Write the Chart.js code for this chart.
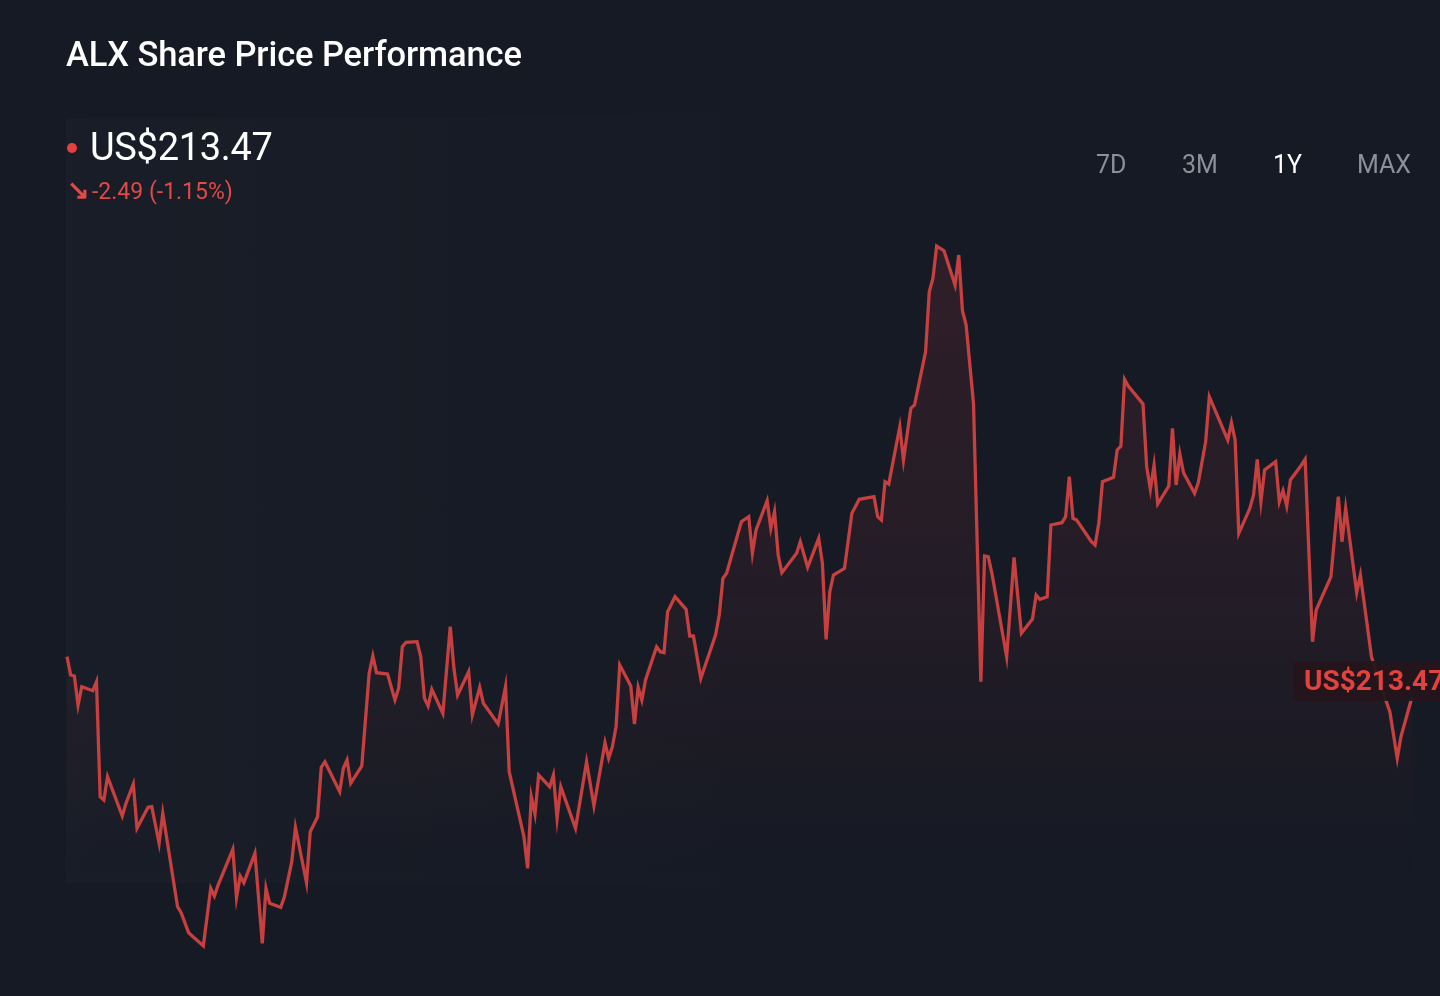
<!DOCTYPE html>
<html>
<head>
<meta charset="utf-8">
<script src="https://cdn.jsdelivr.net/npm/chart.js@4.4.1/dist/chart.umd.min.js"></script>
<style>
  html, body { margin: 0; padding: 0; background: #151a24; width: 1440px; height: 996px; overflow: hidden; font-family: Roboto, "Noto Sans", sans-serif; }
  #wrap { position: relative; width: 1440px; height: 996px; }
  #panel { position: absolute; left: 66px; top: 118px; width: 1374px; height: 765px;
    background: linear-gradient(to right, rgba(255,255,255,0.014), rgba(255,255,255,0) 55%); }
  canvas { position: absolute; left: 0; top: 0; }
  .title { position: absolute; left: 66px; top: 34px; color: #ffffff; font-size: 34.5px; font-weight: 500; letter-spacing: -0.1px; }
  .price { position: absolute; left: 90px; top: 125px; color: #ffffff; font-size: 38px; font-weight: 400; letter-spacing: -0.3px; }
  .dot { position: absolute; left: 67px; top: 143px; width: 10px; height: 10px; border-radius: 50%; background: #e5423f; }
  .change { position: absolute; left: 92px; top: 178px; color: #e04a47; font-size: 23px; }
  .arrow { position: absolute; left: 67px; top: 174px; color: #e04a47; font-size: 27px; font-weight: 700; }
  .tabs span { position: absolute; top: 150px; color: #8b9099; font-size: 25px; }
  .tabs span.on { color: #ffffff; }
  #lastLabel { position: absolute; left: 1294px; top: 661px; width: 160px; height: 40px; background: rgba(36,21,27,0.94);
    border-radius: 3px; color: #e3433f; font-size: 28px; font-weight: 700; line-height: 40px; padding-left: 10px; box-sizing: border-box; white-space: nowrap; }
</style>
</head>
<body>
<div id="wrap">
  <div id="panel"></div>
  <canvas id="priceChart" width="1440" height="996"></canvas>
  <div class="title">ALX Share Price Performance</div>
  <div class="dot"></div>
  <div class="price">US$213.47</div>
  <div class="arrow">↘</div>
  <div class="change">-2.49 (-1.15%)</div>
  <div class="tabs">
    <span style="left:1096px">7D</span>
    <span style="left:1182px">3M</span>
    <span class="on" style="left:1273px">1Y</span>
    <span style="left:1357px">MAX</span>
  </div>
  <div id="lastLabel">US$213.47</div>
</div>
<script>
// calendar days since the start of the 1Y window
const dayOffsets = [
  0,1,2,3,4,7,8,9,10,11,
  15,16,18,19,22,23,25,26,30,31,
  33,37,39,40,41,45,46,47,48,51,
  53,54,55,58,59,61,62,65,66,68,
  69,70,74,75,76,77,80,82,83,84,
  87,89,90,91,92,95,96,97,98,99,
  102,104,105,106,109,110,112,113,117,119,
  120,124,125,126,127,128,131,132,133,134,
  138,141,143,146,147,148,149,150,153,154,
  155,156,157,160,161,162,163,165,168,169,
  170,172,176,177,178,179,183,185,186,187,
  190,191,192,193,194,198,199,201,204,205,
  206,207,208,211,213,215,219,220,221,222,
  223,226,227,229,230,233,234,235,236,238,
  241,242,243,244,246,248,249,250,251,255,
  257,259,262,263,264,266,267,270,271,272,
  273,274,278,279,280,281,284,285,286,287,
  288,292,293,294,295,296,299,300,301,302,
  303,306,307,309,310,315,316,317,318,321,
  322,323,324,325,328,329,330,331,332,335,
  336,338,339,343,345,346,347,350,351,354,
  356,359,361,362,365
];

// share price, US$
const prices = [
  217.50,215.67,215.57,212.67,214.50,214.10,215.00,203.50,203.17,205.50,
  201.57,202.84,204.77,200.34,202.44,202.50,198.84,201.84,192.50,191.87,
  189.90,188.57,194.34,193.57,194.67,198.24,193.40,195.57,194.90,197.84,
  188.84,194.34,192.84,192.44,193.50,197.00,200.44,194.90,200.00,201.50,
  206.44,207.00,204.00,206.34,207.17,204.84,206.57,215.84,217.57,215.90,
  215.77,213.17,214.34,218.50,218.94,219.00,217.50,213.34,212.57,214.24,
  211.84,220.50,216.34,213.67,216.00,211.67,214.44,212.84,210.77,214.50,
  206.00,199.50,196.34,203.50,201.77,205.67,204.50,205.67,201.34,204.50,
  200.34,207.00,202.57,208.90,207.34,208.50,210.50,216.67,214.57,210.77,
  214.44,213.17,215.17,218.50,218.00,217.90,222.00,223.50,222.24,219.57,
  219.57,215.34,219.67,221.67,225.34,225.84,231.00,231.50,227.84,230.17,
  233.10,230.34,232.00,227.67,225.90,227.84,229.00,226.44,229.34,226.84,
  219.24,224.00,225.67,226.34,231.84,233.24,233.50,231.50,231.17,235.00,
  234.77,240.50,237.17,242.34,242.67,248.00,254.00,255.34,258.57,258.10,
  254.67,257.67,252.10,250.67,242.84,215.00,227.57,227.50,225.84,217.50,
  227.44,219.84,221.27,223.67,223.24,223.50,230.67,230.90,231.50,235.50,
  231.34,231.17,229.00,228.67,230.84,235.00,235.44,238.17,238.57,245.24,
  244.57,242.77,236.50,234.24,236.67,232.77,234.57,240.34,234.67,237.77,
  235.90,233.84,234.90,239.00,243.50,239.17,240.90,239.17,229.84,232.34,
  233.67,237.24,233.00,236.17,237.00,233.00,234.10,232.57,235.17,236.67,
  237.24,219.00,222.17,225.50,233.50,229.00,232.34,223.90,225.67,217.50,
  215.17,211.97,207.34,209.50,213.47
];

const priceMin = 185.17;
const priceMax = 263.17;

var points = dayOffsets.map((d, i) => ({ x: d, y: prices[i] }));

// keeps the last price tag next to the last point
const lastTag = {
  id: 'lastTag',
  afterDraw(chart) {
    let y = chart.scales.y.getPixelForValue(prices[prices.length - 1]);
    document.getElementById('lastLabel').style.top = (y - 36) + 'px';
  }
};

var ctx = document.getElementById('priceChart').getContext('2d');
var chart = new Chart(ctx, {
  type: 'line',
  data: {
    datasets: [{
      data: points,
      borderColor: '#c5403e',
      borderWidth: 3.3,
      pointRadius: 0,
      tension: 0,
      fill: 'start',
      clip: false,
      backgroundColor: (c) => {
        let g = c.chart.ctx.createLinearGradient(0, 240, 0, 880);
        g.addColorStop(0, 'rgba(205,60,70,0.15)');
        g.addColorStop(0.6, 'rgba(205,60,70,0.07)');
        g.addColorStop(1, 'rgba(205,60,70,0)');
        return g;
      }
    }]
  },
  options: {
    responsive: false,
    animation: false,
    layout: { padding: { left: 67, right: 28, top: 200, bottom: 16 } },
    scales: {
      x: { type: 'linear', min: 0, max: 365, display: false },
      y: { min: priceMin, max: priceMax, display: false }
    },
    plugins: { legend: { display: false }, tooltip: { enabled: false } }
  },
  plugins: [lastTag]
});
</script>
</body>
</html>
